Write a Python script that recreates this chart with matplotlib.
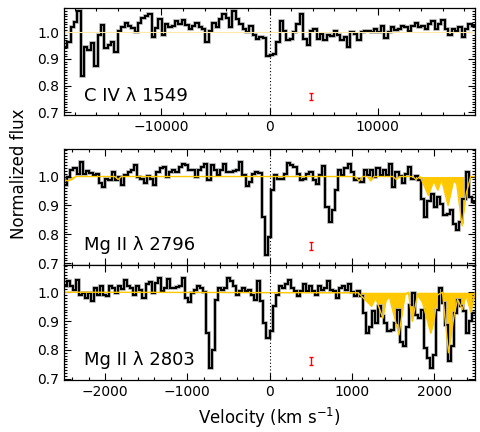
import numpy as np
import matplotlib
matplotlib.use("Agg")
import matplotlib.pyplot as plt
from matplotlib.ticker import MultipleLocator, FormatStrFormatter

# C IV 1549 flux, 300 km/s-ish bins from -19000 to 19000 km/s
civ_flux = [0.945, 0.964, 1.018, 1.039, 1.079, 0.836, 0.945, 0.933, 0.958, 0.873,
            0.988, 1.027, 0.940, 0.952, 0.964, 0.927, 1.006, 1.018, 1.036, 1.024,
            1.015, 1.000, 1.036, 1.055, 1.060, 1.067, 0.982, 1.015, 1.048, 0.988,
            1.030, 1.018, 1.024, 1.042, 1.030, 1.045, 1.027, 1.012, 1.024, 1.036,
            1.018, 1.012, 0.964, 1.006, 1.036, 1.018, 1.048, 1.067, 1.055, 1.018,
            1.079, 1.048, 1.030, 1.012, 1.000, 1.024, 0.988, 0.976, 0.982, 0.978,
            0.909, 0.915, 0.920, 0.964, 1.042, 1.006, 0.970, 0.976, 1.000, 1.030,
            1.067, 0.976, 0.952, 1.006, 1.012, 0.976, 0.994, 0.970, 0.988, 0.985,
            1.006, 0.988, 0.970, 0.982, 0.945, 1.000, 0.994, 0.970, 1.000, 1.004,
            1.006, 1.000, 1.012, 1.000, 1.024, 0.978, 1.000, 1.018, 1.010, 1.012,
            1.024, 1.018, 1.006, 1.024, 1.036, 1.018, 1.024, 1.012, 1.030, 1.042,
            1.012, 1.030, 1.045, 1.012, 0.988, 1.012, 1.006, 1.018, 0.982, 1.012,
            1.030, 1.024]

# Mg II 2796 flux, bins from -2500 to 2500 km/s
mg1_flux = [0.970, 1.000, 1.022, 1.028, 1.008, 1.051, 1.010, 1.019, 1.013, 1.005,
            1.008, 0.976, 0.964, 0.993, 0.987, 1.016, 0.987, 0.997, 0.970, 1.005,
            1.016, 1.022, 1.039, 0.999, 0.993, 0.976, 1.001, 0.993, 0.970, 1.016,
            1.028, 1.034, 0.999, 1.016, 1.024, 1.016, 1.034, 1.045, 1.039, 1.024,
            1.024, 0.999, 1.022, 1.034, 1.045, 0.987, 1.039, 1.022, 1.005, 1.022,
            1.045, 1.016, 1.016, 1.020, 1.022, 1.051, 1.005, 0.966, 0.981, 1.010,
            1.016, 1.013, 0.860, 0.730, 0.790, 0.952, 1.005, 0.993, 0.993, 1.010,
            1.048, 1.040, 1.034, 1.010, 0.987, 0.993, 1.010, 1.016, 0.987, 0.973,
            1.005, 1.036, 0.894, 0.842, 0.883, 0.952, 1.022, 1.005, 1.028, 1.045,
            1.016, 0.987, 0.993, 0.981, 1.022, 1.005, 1.022, 0.999, 1.028, 1.005,
            1.022, 1.005, 1.045, 0.964, 1.016, 1.001, 0.976, 1.010, 1.034, 0.993,
            1.001, 0.987, 0.923, 0.860, 0.917, 0.940, 0.894, 0.929, 0.906, 0.866,
            0.871, 0.883, 0.837, 0.815, 0.842, 0.923, 1.016, 0.929, 0.912]

# Mg II 2803 flux, bins from -2500 to 2500 km/s
mg2_flux = [1.021, 1.038, 1.021, 1.007, 1.042, 0.992, 0.998, 0.980, 0.998, 0.969,
            1.015, 0.992, 1.021, 0.992, 0.986, 1.021, 1.015, 0.998, 1.023, 1.012,
            1.044, 1.023, 1.015, 0.992, 1.021, 1.009, 0.980, 1.027, 1.035, 0.998,
            1.033, 1.050, 1.003, 1.015, 1.046, 1.015, 1.015, 1.019, 1.023, 1.050,
            0.980, 0.965, 0.998, 1.009, 1.021, 1.015, 1.000, 0.858, 0.736, 0.800,
            0.974, 1.015, 1.009, 1.015, 1.050, 1.038, 1.021, 0.992, 1.003, 1.015,
            1.003, 1.009, 0.992, 0.972, 1.038, 0.969, 0.893, 0.841, 0.864, 0.951,
            0.992, 1.021, 1.015, 1.030, 1.044, 1.015, 1.003, 0.986, 1.003, 1.027,
            1.003, 1.021, 1.003, 0.992, 1.021, 1.009, 1.015, 1.038, 1.009, 1.003,
            0.980, 1.015, 1.021, 1.007, 1.030, 1.000, 0.986, 1.003, 0.986, 0.928,
            0.858, 0.881, 0.934, 0.893, 0.951, 0.916, 0.893, 0.864, 0.870, 0.893,
            0.940, 0.829, 0.812, 0.881, 0.957, 0.998, 0.922, 0.910, 0.940, 0.806,
            0.771, 0.736, 0.782, 0.940, 1.015, 0.963, 0.887, 0.760, 0.812, 0.928,
            0.974, 0.951, 0.934, 0.858, 0.899, 0.928]

# absorption models (yellow)
mg1_model_v = [-2500, -2450, -2400, -2360, -1880, -1840, -1800, 1040, 1090, 1130,
               1190, 1230, 1270, 1500, 1540, 1580, 1740, 1780, 1830, 1930, 1995,
               2045, 2090, 2170, 2235, 2275, 2340, 2390, 2445, 2500]
mg1_model_f = [0.99, 0.985, 0.99, 1.0, 1.0, 0.99, 1.0, 1.0, 0.985, 1.0,
               1.0, 0.985, 1.0, 1.0, 0.99, 1.0, 1.0, 0.99, 1.0, 0.935, 0.985,
               0.953, 0.99, 0.90, 0.985, 0.975, 0.83, 0.94, 1.0, 1.0]

mg2_model_v = [-2500, 1078, 1240, 1289, 1378, 1415, 1455, 1573, 1646, 1687,
               1736, 1797, 1858, 1960, 2000, 2041, 2102, 2175, 2244, 2285,
               2346, 2387, 2448, 2500]
mg2_model_f = [1.0, 0.998, 0.951, 0.98, 0.91, 0.97, 0.985, 0.852, 0.99, 1.0,
               0.899, 0.99, 0.965, 0.858, 0.90, 0.99, 1.0, 0.79, 0.92, 0.975,
               0.94, 0.99, 0.93, 1.0]

labels = ["C IV λ 1549", "Mg II λ 2796", "Mg II λ 2803"]
err_x = [3800, 500, 500]
err_y = 0.76
err_size = 0.014

gold = "#ffc800"

fig = plt.figure(figsize=(4.8, 4.32), dpi=100)
ax1 = fig.add_axes([0.133, 0.734, 0.857, 0.247])
ax2 = fig.add_axes([0.133, 0.387, 0.857, 0.268])
ax3 = fig.add_axes([0.133, 0.120, 0.857, 0.267])
axes = [ax1, ax2, ax3]


def draw_spec(ax, flux, vmin, vmax):
    edges = np.linspace(vmin, vmax, len(flux) + 1)
    ax.stairs(flux, edges, baseline=None, color="#b0b0b0", lw=2.6)
    ax.stairs(flux, edges, baseline=None, color="black", lw=1.5)


# top panel
ax1.axhline(1.0, color="#ffe9a8", lw=0.8)
draw_spec(ax1, civ_flux, -19000, 19000)
ax1.set_xlim(-19000, 19000)
ax1.set_ylim(0.69, 1.09)
ax1.xaxis.set_major_locator(MultipleLocator(10000))
ax1.xaxis.set_minor_locator(MultipleLocator(2000))

# middle panel
ax2.fill_between(mg1_model_v, mg1_model_f, 1.0, color=gold, lw=0)
ax2.plot(mg1_model_v, mg1_model_f, color=gold, lw=1)
draw_spec(ax2, mg1_flux, -2500, 2500)
ax2.set_xlim(-2500, 2500)
ax2.set_ylim(0.695, 1.095)

# bottom panel
ax3.fill_between(mg2_model_v, mg2_model_f, 1.0, color=gold, lw=0)
ax3.plot(mg2_model_v, mg2_model_f, color=gold, lw=1)
draw_spec(ax3, mg2_flux, -2500, 2500)
ax3.set_xlim(-2500, 2500)
ax3.set_ylim(0.695, 1.095)

for ax in [ax2, ax3]:
    ax.xaxis.set_major_locator(MultipleLocator(1000))
    ax.xaxis.set_minor_locator(MultipleLocator(200))
ax2.tick_params(axis="x", labelbottom=False)

for i, ax in enumerate(axes):
    ax.axvline(0, color="black", ls=(0, (1, 2)), lw=0.8)
    ax.errorbar([err_x[i]], [err_y], yerr=err_size, color="red",
                capsize=1.5, lw=1, capthick=1)
    ax.text(0.05, 0.13, labels[i], transform=ax.transAxes, fontsize=13,
            va="baseline", ha="left")
    ax.yaxis.set_major_locator(MultipleLocator(0.1))
    ax.yaxis.set_minor_locator(MultipleLocator(0.01))
    ax.yaxis.set_major_formatter(FormatStrFormatter("%.1f"))
    ax.tick_params(which="both", direction="in", top=True, right=True,
                   labelsize=10, width=0.8)
    ax.tick_params(which="major", length=5)
    ax.tick_params(which="minor", length=2.5)
    for s in ax.spines.values():
        s.set_linewidth(0.9)

ax3.set_xlabel("Velocity (km s$^{-1}$)", fontsize=12, labelpad=5)
fig.text(0.04, 0.597, "Normalized flux", rotation=90, fontsize=12,
         ha="center", va="center")

fig.savefig("out.png", dpi=100)
